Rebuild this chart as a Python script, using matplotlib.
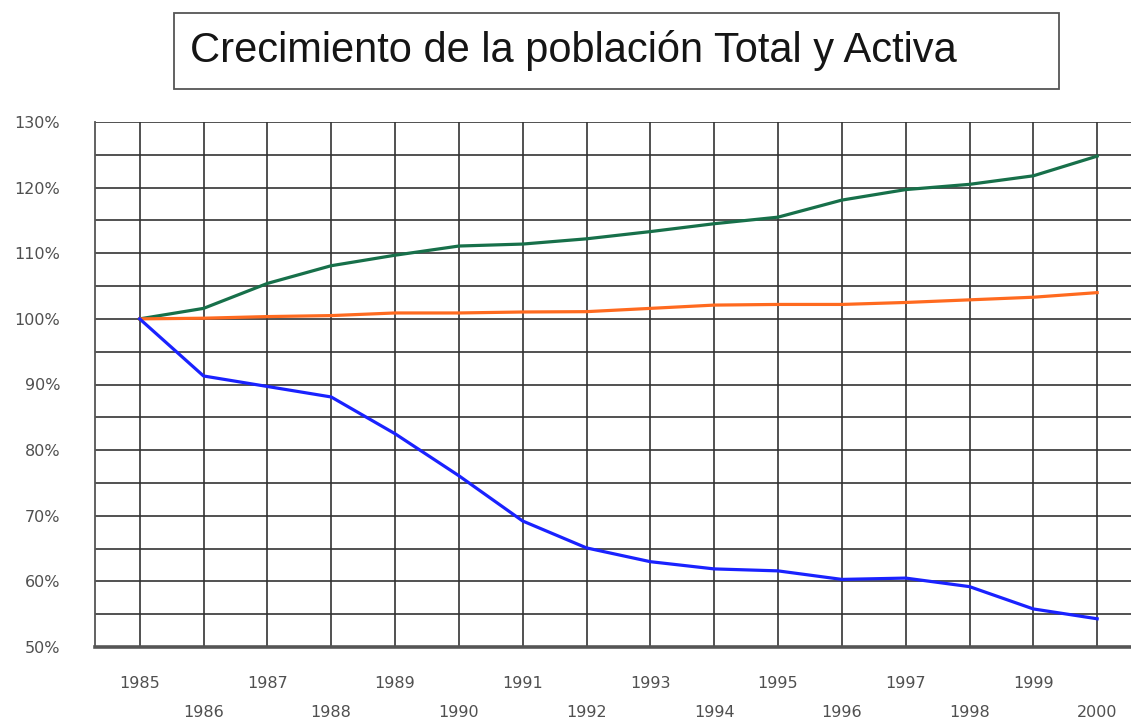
import matplotlib.pyplot as plt
from matplotlib.patches import Rectangle
from matplotlib.ticker import FuncFormatter

plt.rcParams['font.family'] = ['Liberation Sans', 'DejaVu Sans']

# datos (indice 1985 = 100%)
years = list(range(1985, 2001))
pob_total = [100.0, 101.6, 105.4, 108.1, 109.7, 111.1, 111.4, 112.2, 113.3, 114.5,
             115.5, 118.1, 119.7, 120.5, 121.8, 124.8]
pob_activa = [100.0, 100.1, 100.35, 100.5, 100.9, 100.9, 101.05, 101.1, 101.6, 102.1,
              102.2, 102.2, 102.5, 102.9, 103.3, 104.0]
tercera = [100.0, 91.3, 89.7, 88.1, 82.5, 76.1, 69.2, 65.1, 63.0, 61.9,
           61.6, 60.3, 60.5, 59.2, 55.8, 54.3]

W, H = 1131, 722
fig = plt.figure(figsize=(W / 100, H / 100), dpi=100)
ax = fig.add_axes([95 / W, 1 - 647 / H, 1 - 95 / W, (647 - 122) / H])

ax.plot(years, pob_total, color='#17704a', lw=2.3, zorder=3)
ax.plot(years, pob_activa, color='#ff6a1f', lw=2.3, zorder=3)
ax.plot(years, tercera, color='#1a22ff', lw=2.3, zorder=3)

ax.set_xlim(1984.3, 2000.53)
ax.set_ylim(50, 130)

# rejilla: lineas cada 5%, etiquetas cada 10%
ax.set_yticks(range(50, 131, 10))
ax.set_yticks(range(55, 130, 10), minor=True)
ax.yaxis.set_major_formatter(FuncFormatter(lambda v, p: '%d%%' % v))
ax.set_xticks(years[::2])
ax.set_xticks(years[1::2], minor=True)
ax.set_xticklabels([str(y) for y in years[::2]])
ax.set_xticklabels([str(y) for y in years[1::2]], minor=True)

ax.grid(True, which='both', color='#333333', lw=1.2, zorder=1)
ax.tick_params(axis='both', which='both', length=0, labelsize=11.5, labelcolor='#505050')
ax.tick_params(axis='x', which='major', pad=21)
ax.tick_params(axis='x', which='minor', pad=42)
ax.tick_params(axis='y', pad=25)
for lab in ax.get_xticklabels() + ax.get_xticklabels(minor=True) + ax.get_yticklabels():
    lab.set_family('DejaVu Sans')

for s in ['top', 'right']:
    ax.spines[s].set_visible(False)
ax.spines['left'].set_color('#555555')
ax.spines['left'].set_linewidth(1.3)
ax.spines['bottom'].set_color('#555555')
ax.spines['bottom'].set_linewidth(2.6)

# titulo en recuadro
fig.patches.append(Rectangle((174 / W, 1 - 89 / H), (1059 - 174) / W, (89 - 13) / H,
                             transform=fig.transFigure, fill=False,
                             edgecolor='#555555', lw=1.3))
fig.text(190 / W, 1 - 62 / H, 'Crecimiento de la población Total y Activa',
         fontsize=30, color='#151515', ha='left', va='baseline')

fig.savefig('out.png', dpi=100)
